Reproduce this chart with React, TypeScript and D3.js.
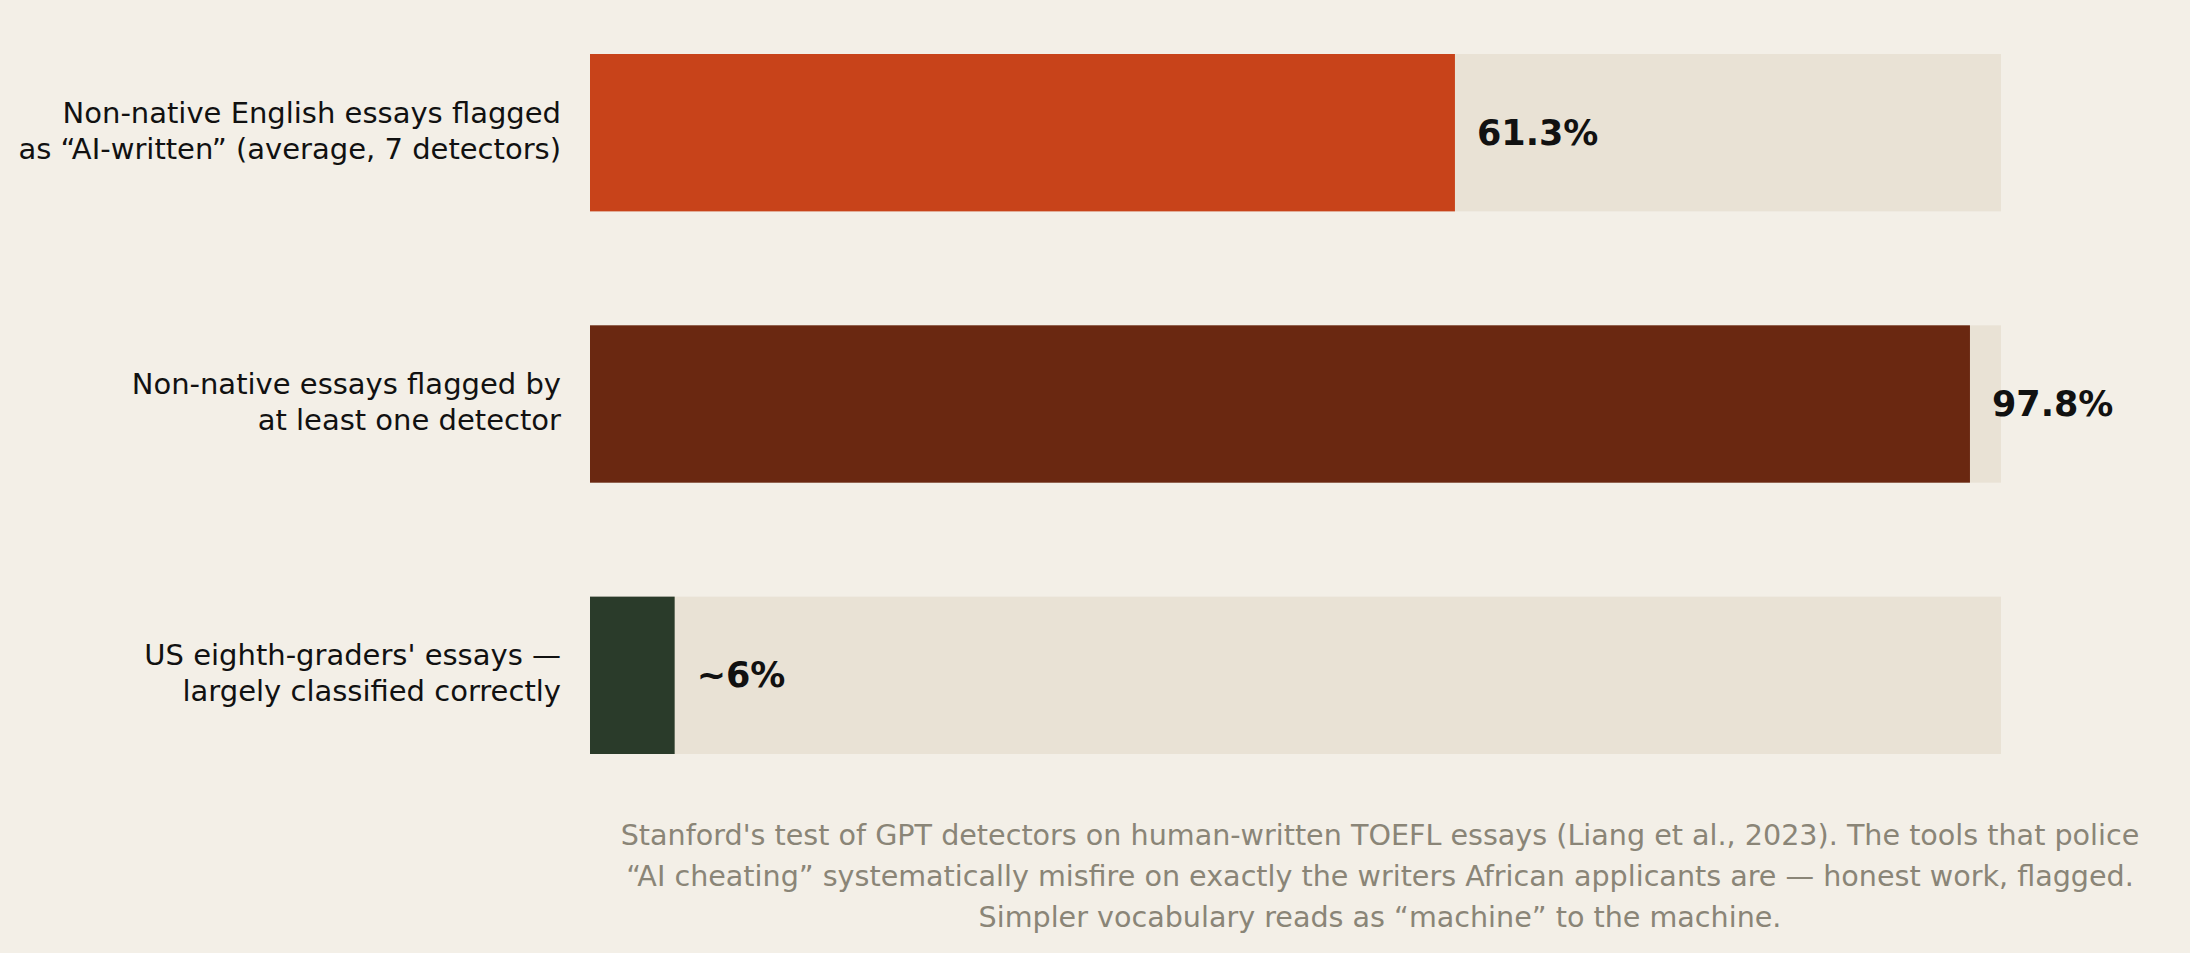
import { useEffect, useRef } from 'react';
import * as d3 from 'd3';

const categories = [
  ['Non-native English essays flagged', 'as \u201cAI-written\u201d (average, 7 detectors)'],
  ['Non-native essays flagged by', 'at least one detector'],
  ["US eighth-graders' essays \u2014", 'largely classified correctly'],
];
const values = [61.3, 97.8, 6];
const valueLabels = ['61.3%', '97.8%', '~6%'];
const barColors = ['#c8431a', '#6a2811', '#2a3b2a'];
const captionLines = [
  "Stanford's test of GPT detectors on human-written TOEFL essays (Liang et al., 2023). The tools that police",
  '\u201cAI cheating\u201d systematically misfire on exactly the writers African applicants are \u2014 honest work, flagged.',
  'Simpler vocabulary reads as \u201cmachine\u201d to the machine.',
];

const W = 2190;
const H = 953;

const BarChart = () => {
  const svgRef = useRef<SVGSVGElement>(null);

  useEffect(() => {
    const svg = d3.select(svgRef.current);
    svg.selectAll('*').remove();

    // 배경
    svg.append('rect').attr('width', W).attr('height', H).attr('fill', '#f3efe7');

    const xScale = d3.scaleLinear().domain([0, 100]).range([590, 2001]);
    const yScale = d3
      .scaleBand<number>()
      .domain(d3.range(values.length))
      .range([54, 754])
      .paddingInner(0.42)
      .paddingOuter(0);

    const font = "'DejaVu Sans', sans-serif";

    const rows = svg
      .selectAll('.row')
      .data(values)
      .enter()
      .append('g')
      .attr('class', 'row');

    // 트랙
    rows
      .append('rect')
      .attr('x', xScale(0))
      .attr('y', (_, i) => yScale(i) as number)
      .attr('width', xScale(100) - xScale(0))
      .attr('height', yScale.bandwidth())
      .attr('fill', '#e9e2d5');

    // 막대
    rows
      .append('rect')
      .attr('x', xScale(0))
      .attr('y', (_, i) => yScale(i) as number)
      .attr('width', (d) => xScale(d) - xScale(0))
      .attr('height', yScale.bandwidth())
      .attr('fill', (_, i) => barColors[i]);

    // 값 라벨
    rows
      .append('text')
      .attr('x', (d) => xScale(d) + 22)
      .attr('y', (_, i) => (yScale(i) as number) + yScale.bandwidth() / 2 + 12)
      .attr('font-family', font)
      .attr('font-weight', 'bold')
      .attr('font-size', 35)
      .attr('fill', '#111')
      .text((_, i) => valueLabels[i]);

    // 카테고리 라벨
    rows.each(function (_, i) {
      const cy = (yScale(i) as number) + yScale.bandwidth() / 2;
      const t = d3
        .select(this)
        .append('text')
        .attr('text-anchor', 'end')
        .attr('font-family', font)
        .attr('font-size', 29)
        .attr('fill', '#111');
      categories[i].forEach((line, j) => {
        t.append('tspan')
          .attr('x', 561)
          .attr('y', cy - 10 + j * 36)
          .text(line);
      });
    });

    // 캡션
    svg
      .append('g')
      .selectAll('text')
      .data(captionLines)
      .enter()
      .append('text')
      .attr('x', 1380)
      .attr('y', (_, i) => 845 + i * 41)
      .attr('text-anchor', 'middle')
      .attr('font-family', font)
      .attr('font-size', 28.6)
      .attr('fill', '#8a8577')
      .text((d) => d);
  }, []);

  return (
    <svg
      ref={svgRef}
      width={W}
      height={H}
      style={{ position: 'absolute', left: 0, top: 0, display: 'block' }}
    />
  );
};

export default function App() {
  return <BarChart />;
}
